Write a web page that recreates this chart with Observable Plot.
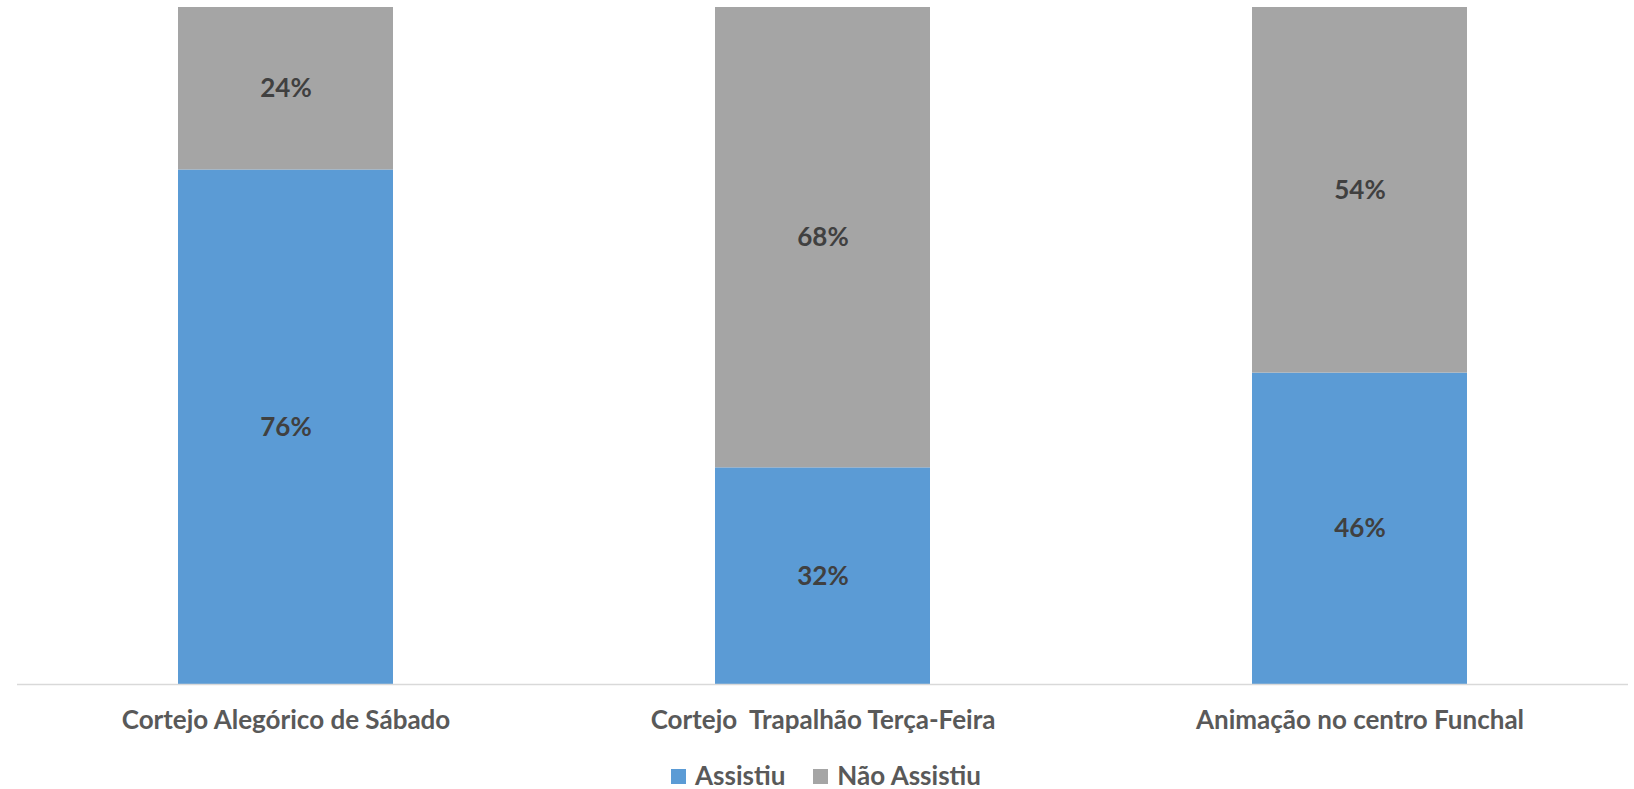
<!DOCTYPE html>
<html>
<head>
<meta charset="utf-8">
<script src="https://cdn.jsdelivr.net/npm/d3@7"></script>
<script src="https://cdn.jsdelivr.net/npm/@observablehq/plot@0.6"></script>
<style>
  html, body { margin: 0; padding: 0; background: #fff; }
  body { width: 1634px; height: 789px; position: relative; font-family: Lato, "Open Sans", sans-serif; }
  #chart svg text { white-space: pre; }
  #legend { position: absolute; left: 0; top: 762px; width: 1652px; height: 27px; display: flex; justify-content: center; align-items: center; font: bold 26px Lato, sans-serif; color: #595959; line-height: 27px; }
  #legend .item { display: flex; align-items: center; margin: 0 14px; }
  #legend .sw { width: 15px; height: 15px; margin-right: 9px; margin-top: 2px; }
</style>
</head>
<body>
<div id="chart"></div>
<div id="legend"></div>
<script>
const categories = ["Cortejo Alegórico de Sábado", "Cortejo  Trapalhão Terça-Feira", "Animação no centro Funchal"];
const series = ["Assistiu", "Não Assistiu"];
const assistiu = [0.76, 0.32, 0.46];
const naoAssistiu = [0.24, 0.68, 0.54];
const colors = ["#5B9BD5", "#A5A5A5"];

const data = [];
categories.forEach((c, i) => {
  data.push({category: c, series: series[0], value: assistiu[i]});
  data.push({category: c, series: series[1], value: naoAssistiu[i]});
});

const chart = Plot.plot({
  width: 1634,
  height: 750,
  marginTop: 7,
  marginBottom: 66,
  marginLeft: 17,
  marginRight: 6,
  style: {background: "transparent", fontFamily: "Lato, 'Open Sans', sans-serif"},
  x: {domain: categories, paddingInner: 0.6, paddingOuter: 0.3, label: null},
  y: {domain: [0, 1], axis: null},
  color: {domain: series, range: colors},
  marks: [
    Plot.barY(data, {x: "category", y: "value", fill: "series"}),
    Plot.text(data, Plot.stackY({x: "category", y: "value", text: d => Math.round(d.value * 100) + "%", fill: "#404040", fontSize: 26, fontWeight: "bold"})),
    Plot.ruleY([0], {stroke: "#d9d9d9", strokeWidth: 1.5}),
    Plot.axisX({tickSize: 0, tickPadding: 26, fontSize: 26, fontWeight: "bold", fill: "#595959", label: null})
  ]
});
document.getElementById("chart").appendChild(chart);

const legend = document.getElementById("legend");
series.forEach((s, i) => {
  const item = document.createElement("div");
  item.className = "item";
  const sw = document.createElement("div");
  sw.className = "sw";
  sw.style.background = colors[i];
  const t = document.createElement("span");
  t.textContent = s;
  item.appendChild(sw);
  item.appendChild(t);
  legend.appendChild(item);
});
</script>
</body>
</html>
